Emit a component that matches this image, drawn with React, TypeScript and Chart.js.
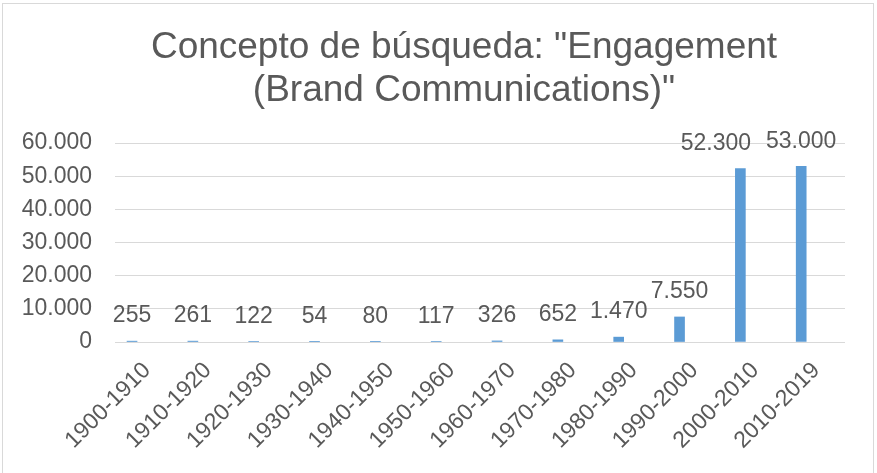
import React, { useEffect, useRef } from "react";
import { Chart, registerables } from "chart.js";

Chart.register(...registerables);

const categories = [
  "1900-1910",
  "1910-1920",
  "1920-1930",
  "1930-1940",
  "1940-1950",
  "1950-1960",
  "1960-1970",
  "1970-1980",
  "1980-1990",
  "1990-2000",
  "2000-2010",
  "2010-2019",
];
const values = [255, 261, 122, 54, 80, 117, 326, 652, 1470, 7550, 52300, 53000];
const yTicks = [0, 10000, 20000, 30000, 40000, 50000, 60000];
const titleLines = ['Concepto de búsqueda: "Engagement', '(Brand Communications)"'];

const FONT = "'Liberation Sans', Arial, sans-serif";
const TEXT = "#595959";
const GRID = "#D9D9D9";
const BAR = "#5B9BD5";

function fmt(n: number): string {
  return String(Math.round(n)).replace(/\B(?=(\d{3})+(?!\d))/g, ".");
}

const titlePlugin = {
  id: "titleLines",
  afterDraw(chart: any) {
    const ctx = chart.ctx;
    ctx.save();
    ctx.font = `37px ${FONT}`;
    ctx.fillStyle = TEXT;
    ctx.textAlign = "center";
    ctx.textBaseline = "alphabetic";
    titleLines.forEach((line, i) => ctx.fillText(line, 464, 58 + i * 43));
    ctx.restore();
  },
};

const dataLabels = {
  id: "dataLabels",
  afterDatasetsDraw(chart: any) {
    const ctx = chart.ctx;
    const meta = chart.getDatasetMeta(0);
    ctx.save();
    ctx.font = `23px ${FONT}`;
    ctx.fillStyle = TEXT;
    ctx.textAlign = "center";
    ctx.textBaseline = "middle";
    const items = meta.data.map((el: any, i: number) => {
      const text = fmt(values[i]);
      const w = ctx.measureText(text).width;
      return { text, x: el.x, y: el.y - 25, w };
    });
    for (let i = items.length - 2; i >= 0; i--) {
      const a = items[i];
      const b = items[i + 1];
      const vOverlap = Math.abs(a.y - b.y) < 24;
      const overlap = a.x + a.w / 2 - (b.x - b.w / 2);
      if (vOverlap && overlap > 0) {
        a.x -= overlap + 15;
      }
    }
    items.forEach((it: any) => ctx.fillText(it.text, it.x, it.y));
    ctx.restore();
  },
};

const frame = {
  id: "frame",
  afterDraw(chart: any) {
    const ctx = chart.ctx;
    ctx.save();
    ctx.strokeStyle = GRID;
    ctx.lineWidth = 1;
    ctx.strokeRect(2.5, 3.5, 871, 520);
    ctx.restore();
  },
};

export default function App() {
  const ref = useRef<HTMLCanvasElement | null>(null);

  useEffect(() => {
    if (!ref.current) return;
    const chart = new Chart(ref.current, {
      type: "bar",
      data: {
        datasets: [
          {
            data: values.map((v, i) => ({ x: i, y: v })),
            backgroundColor: BAR,
            barThickness: 10,
          },
        ],
      },
      options: {
        responsive: false,
        animation: false,
        devicePixelRatio: 1,
        layout: { padding: { left: 0, right: 32, top: 143, bottom: 0 } },
        plugins: {
          legend: { display: false },
          tooltip: { enabled: false },
          title: { display: false },
        },
        scales: {
          x: {
            type: "linear",
            offset: false,
            min: -0.28,
            max: 11.72,
            grid: { display: false, drawTicks: false },
            border: { display: false },
            afterBuildTicks: (s: any) => {
              s.ticks = categories.map((_, i) => ({ value: i }));
            },
            afterFit: (s: any) => {
              s.height = 131;
            },
            ticks: {
              autoSkip: false,
              minRotation: 45,
              maxRotation: 45,
              labelOffset: 15,
              padding: 15,
              color: TEXT,
              font: { family: FONT, size: 23 },
              callback: (v: any) => categories[Math.round(Number(v))],
            },
          },
          y: {
            min: 0,
            max: 60000,
            grid: { color: GRID, drawTicks: false, lineWidth: 1 },
            border: { display: false },
            afterBuildTicks: (s: any) => {
              s.ticks = yTicks.map((v) => ({ value: v }));
            },
            afterFit: (s: any) => {
              s.width = 115;
            },
            ticks: {
              padding: 23,
              color: TEXT,
              font: { family: FONT, size: 23 },
              callback: (v: any) => fmt(Number(v)),
            },
          },
        },
      },
      plugins: [dataLabels, titlePlugin, frame],
    } as any);
    return () => chart.destroy();
  }, []);

  return (
    <div
      style={{
        position: "absolute",
        left: 0,
        top: 0,
        width: 877,
        height: 473,
        background: "#fff",
      }}
    >
      <canvas ref={ref} width={877} height={473} style={{ display: "block" }} />
    </div>
  );
}
